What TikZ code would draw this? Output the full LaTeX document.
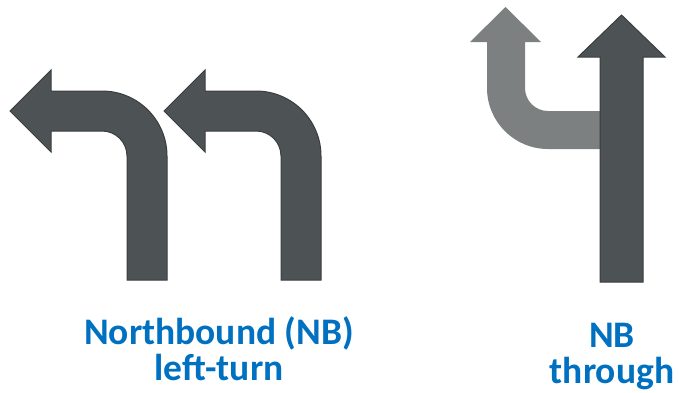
\documentclass[tikz,border=0pt]{standalone}
\usepackage{fontspec}
\setmainfont{Carlito}
\usetikzlibrary{positioning}
\definecolor{arrowdark}{HTML}{4D5254}
\definecolor{arrowedge}{HTML}{3A3E40}
\definecolor{arrowlight}{HTML}{7C8081}
\definecolor{labelblue}{HTML}{0070C0}
\begin{document}
\begin{tikzpicture}[
  x=1pt, y=-1pt,
  darkarrow/.style={fill=arrowdark, draw=arrowedge, line width=1pt, line join=miter},
  lightarrow/.style={fill=arrowlight},
  lanelabel/.style={text=labelblue, font=\fontsize{37.5}{36}\selectfont\bfseries, align=center, inner sep=0pt, anchor=base}
]
\useasboundingbox (0,0) rectangle (679,392);
\foreach \dx in {0,154}{
  \draw[darkarrow, xshift=\dx] (167,280) -- (167,156) arc[start angle=0, end angle=-90, radius=65]
    -- (51,91) -- (51,70) -- (10,111) -- (51,152) -- (51,131) -- (102,131)
    arc[start angle=-90, end angle=0, radius=25] -- (127,280) -- cycle;
}
\fill[lightarrow] (541,42) -- (505.5,7) -- (470,42) -- (487,42) -- (487,88)
  arc[start angle=180, end angle=90, radius=61] -- (610,149) -- (610,111) -- (548,111)
  arc[start angle=90, end angle=180, radius=23] -- (525,42) -- cycle;
\draw[darkarrow] (600,282) -- (600,57) -- (578,57) -- (621.5,15) -- (665,57) -- (643,57) -- (643,282) -- cycle;
\node[lanelabel] (leftlabel) at (219,380) {Northbound (NB)\\left-turn};
\node[lanelabel] (thrulabel) at (612,383) {NB\\through};
\end{tikzpicture}
\end{document}
